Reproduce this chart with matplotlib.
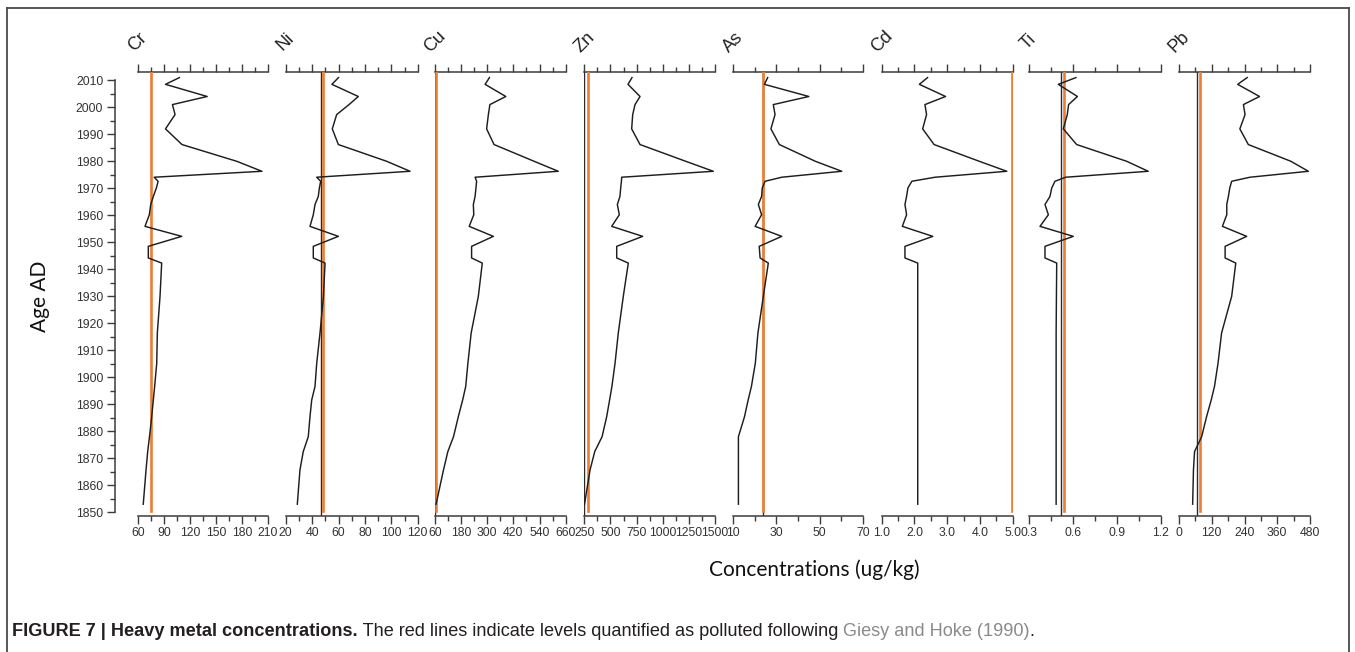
import matplotlib
matplotlib.use("Agg")
import matplotlib.pyplot as plt
from matplotlib.lines import Line2D
from matplotlib.ticker import MultipleLocator, FixedLocator

# ---------------- data ----------------
YEARS = [2011, 2008.5, 2004, 2001, 1997.3, 1992, 1986.2, 1980, 1976.3, 1974.1,
         1972.6, 1970.1, 1967, 1964, 1960.2, 1955.9, 1952.2, 1948.5, 1944.2, 1942.3,
         1930, 1916.4, 1905.2, 1896.6, 1891.6, 1885.4, 1878, 1872.5, 1865.7, 1853]

CR = [108, 92, 140, 100, 103, 92, 111, 174, 203, 79, 83.5, 81.5, 78, 75, 73.4, 68.4,
      110.7, 72.2, 72.2, 87.6, 85.7, 82.6, 81.9, 79.5, 78, 76.1, 73.6, 71.5, 69.6, 66.4]
NI = [60, 55, 75, 68, 58.6, 55.3, 59.9, 96.5, 114.2, 43.5, 46.5, 45.5, 44.7, 42.2, 40.9,
      38.4, 59.9, 40.9, 40.9, 49.8, 48.6, 46, 43.5, 42.2, 39.7, 38.4, 37.1, 33.3, 30.8, 28.8]
CU = [310, 290, 385, 312, 305, 297, 331, 515, 626, 244, 251, 248, 244, 236, 238, 217,
      328, 228, 228, 277, 259, 226, 211, 201, 187, 167, 145, 119, 99, 65]
ZN = [706, 668, 783, 735, 713, 703, 783, 1220, 1484, 608, 605, 598, 591, 566, 585, 512,
      808, 560, 560, 671, 623, 575, 544, 514, 492, 464, 420, 350, 305, 252]
AS = [26, 24.5, 45, 28.6, 29.4, 27.5, 31.4, 48, 60.2, 32.5, 24.8, 23.5, 23.2, 21.7, 23.2,
      20.2, 32.5, 22.1, 22.5, 26.3, 24, 21.5, 20.3, 18.5, 17, 15.3, 12.5, 12.5, 12.5, 12.5]
CD = [2.4, 2.15, 2.95, 2.32, 2.37, 2.25, 2.6, 3.98, 4.82, 2.63, 1.92, 1.8, 1.76, 1.71,
      1.76, 1.63, 2.56, 1.71, 1.71, 2.10, 2.10, 2.10, 2.10, 2.10, 2.10, 2.10, 2.10, 2.10,
      2.10, 2.10]
TI = [0.62, 0.50, 0.63, 0.57, 0.561, 0.534, 0.625, 0.966, 1.113, 0.55, 0.477, 0.455,
      0.443, 0.409, 0.432, 0.375, 0.602, 0.409, 0.409, 0.489, 0.487, 0.485, 0.485, 0.485,
      0.485, 0.485, 0.485, 0.485, 0.485, 0.485]
PB = [250, 215, 295, 236, 242, 223, 254, 410, 474, 260, 193, 186, 181, 175, 175, 159,
      248, 169, 169, 208, 193, 156, 143, 130, 118, 101, 83, 57, 53, 50]

ELEMENTS = ["Cr", "Ni", "Cu", "Zn", "As", "Cd", "Ti", "Pb"]
SERIES = [CR, NI, CU, ZN, AS, CD, TI, PB]
XMIN = [60, 20, 60, 250, 10, 1.0, 0.3, 0]
XMAX = [210, 120, 660, 1500, 70, 5.0, 1.2, 480]
MAJOR = [30, 20, 120, 250, 20, 1.0, 0.3, 120]
TICKFMT = ["{:.0f}", "{:.0f}", "{:.0f}", "{:.0f}", "{:.0f}", "{:.1f}", "{:.1f}", "{:.0f}"]
POLLUTED = [75, 48.3, 66, 288, 24, 4.98, 0.537, 77]          # orange lines
REFERENCE = [None, 46.7, 60.6, 251, 23.7, None, 0.516, 65]   # thin black lines

YTICKS = list(range(1850, 2011, 10))

# ---------------- layout ----------------
W, H = 1355, 652
fig = plt.figure(figsize=(W / 100, H / 100), dpi=100)
fig.patch.set_facecolor("white")

TOP_PX, BOT_PX = 72, 516
YLIM = (1848.63, 2013.07)
LEFTS = [137.7, 285.7, 435.0, 584.3, 733.0, 881.7, 1029.0, 1179.0]
RIGHTS = [268.0, 417.7, 565.7, 715.0, 863.0, 1012.7, 1161.0, 1310.0]

TICK_FONT = "Liberation Sans"
AX_COL = "#3c3c3c"
TXT_COL = "#333333"
ORANGE = "#ED7D31"


def rect(l, r):
    return [l / W, 1 - BOT_PX / H, (r - l) / W, (BOT_PX - TOP_PX) / H]


for i, el in enumerate(ELEMENTS):
    ax = fig.add_axes(rect(LEFTS[i], RIGHTS[i]))
    ax.set_facecolor("none")
    ax.set_xlim(XMIN[i], XMAX[i])
    ax.set_ylim(*YLIM)
    for s in ("left", "right"):
        ax.spines[s].set_visible(False)
    for s in ("top", "bottom"):
        ax.spines[s].set_color(AX_COL)
        ax.spines[s].set_linewidth(1.1)
    # reference lines
    if REFERENCE[i] is not None:
        ax.axvline(REFERENCE[i], color="#2a2a2a", lw=1.0, zorder=2)
    frac_1850 = (1850.3 - YLIM[0]) / (YLIM[1] - YLIM[0])
    ax.axvline(POLLUTED[i], ymin=frac_1850, ymax=1, color=ORANGE, lw=1.9, zorder=3)
    # data profile
    ax.plot(SERIES[i], YEARS, color="#1e1e1e", lw=1.05, zorder=4)

    majors = []
    v = XMIN[i]
    while v <= XMAX[i] + 1e-9:
        majors.append(v)
        v += MAJOR[i]
    ax.xaxis.set_major_locator(FixedLocator(majors))
    ax.xaxis.set_minor_locator(MultipleLocator(MAJOR[i] / 2))
    ax.set_xticklabels([TICKFMT[i].format(m) for m in majors],
                       fontsize=8.8, family=TICK_FONT, color=TXT_COL)
    ax.tick_params(axis="x", which="both", direction="out", top=True, bottom=True,
                   labeltop=False, labelbottom=True, color=AX_COL, width=1.0, pad=2.5)
    ax.tick_params(axis="x", which="major", length=5.5)
    ax.tick_params(axis="x", which="minor", length=3.5)
    ax.set_yticks([])

    fig.text(LEFTS[i] / W, 1 - 42 / H, el, rotation=45, ha="center", va="center",
             fontsize=13, family=TICK_FONT, color="#222222")

# y axis (detached)
yax = fig.add_axes(rect(115, 116))
yax.set_facecolor("none")
yax.set_ylim(*YLIM)
for s in ("top", "right", "bottom"):
    yax.spines[s].set_visible(False)
yax.spines["left"].set_color(AX_COL)
yax.spines["left"].set_linewidth(1.1)
yax.spines["left"].set_bounds(1850, 2010)
yax.set_xticks([])
yax.set_yticks(YTICKS)
yax.yaxis.set_minor_locator(FixedLocator([y + 5 for y in YTICKS[:-1]]))
yax.set_yticklabels([str(y) for y in YTICKS], fontsize=8.8, family=TICK_FONT, color=TXT_COL)
yax.tick_params(axis="y", which="major", length=6, width=1.0, color=AX_COL, pad=2.5)
yax.tick_params(axis="y", which="minor", length=3.5, width=1.0, color=AX_COL)

fig.text(40 / W, 1 - 296 / H, "Age AD", rotation=90, ha="center", va="center",
         fontsize=15, family="Lato", color="#111111")
fig.text(814 / W, 1 - 570 / H, "Concentrations (ug/kg)", ha="center", va="center",
         fontsize=15, family="Lato", color="#111111")

# caption built from pieces
fig.canvas.draw()
renderer = fig.canvas.get_renderer()
pieces = [("FIGURE 7 | Heavy metal concentrations.", "bold", "#231f20"),
          (" The red lines indicate levels quantified as polluted following ", "normal", "#231f20"),
          ("Giesy and Hoke (1990)", "normal", "#8a8a8a"),
          (".", "normal", "#231f20")]


def draw_caption(size, draw=True):
    x = 12.0
    arts = []
    for txt, wt, col in pieces:
        t = fig.text(x / W, 1 - 632 / H, txt, ha="left", va="center", fontsize=size,
                     family=TICK_FONT, weight=wt, color=col)
        bb = t.get_window_extent(renderer)
        x += bb.width
        arts.append(t)
    if not draw:
        for t in arts:
            t.remove()
    return x


end = draw_caption(11.0, draw=False)
size = 11.0 * (1036 - 12) / (end - 12)
draw_caption(size)

# frame
frame_col = "#4a4a4a"
for xs, ys in [((6.5, 6.5), (8, H)), ((6.5, 1349), (8, 8)), ((1349, 1349), (8, H))]:
    fig.add_artist(Line2D([x / W for x in xs], [1 - y / H for y in ys],
                          transform=fig.transFigure, color=frame_col, lw=1.3))

fig.savefig("out.png", dpi=100, facecolor="white")
